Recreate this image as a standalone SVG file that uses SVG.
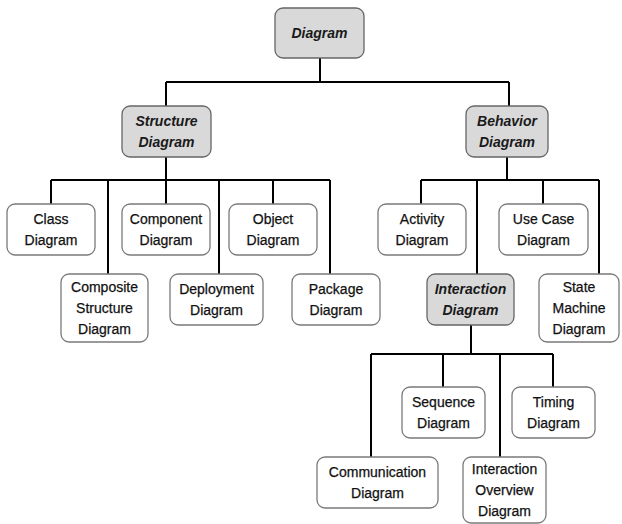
<svg xmlns="http://www.w3.org/2000/svg" width="622" height="524" viewBox="0 0 622 524">
<style>
.b{fill:#fff;stroke:#7a7a7a;stroke-width:1.3}
.g{fill:#d9d9d9;stroke:#666;stroke-width:1.3}
text{font-family:"Liberation Sans",Arial,sans-serif;font-size:14px;fill:#111;text-anchor:middle;stroke:#111;stroke-width:0.25}
.i{font-style:italic;font-weight:bold;stroke:none;fill:#1a1a1a}
.c{fill:none;stroke:#000;stroke-width:2}
</style>
<rect width="622" height="524" fill="#fff"/>
<g id="connectors" class="c">
<path d="M320 58V82M166 82H509M166 82V106M509 82V106"/>
<path d="M166 157V180M51 180H330M51 180V204M108 180V274M166 180V204M219 180V274M273 180V204M330 180V274"/>
<path d="M507 157V180M421 180H599M421 180V204M477 180V274M543 180V204M599 180V274"/>
<path d="M471 325V354M371 354H553M371 354V457M443 354V387M500 354V457M553 354V387"/>
</g>
<g id="diagram"><rect class="g" x="275" y="8" width="89" height="50" rx="8"/><text class="i" x="319.5" y="38">Diagram</text></g>
<g id="structure"><rect class="g" x="122" y="106" width="89" height="51" rx="8"/><text class="i" x="166.5" y="126">Structure</text><text class="i" x="166.5" y="147">Diagram</text></g>
<g id="behavior"><rect class="g" x="466" y="106" width="82" height="51" rx="8"/><text class="i" x="507" y="126">Behavior</text><text class="i" x="507" y="147">Diagram</text></g>
<g id="class"><rect class="b" x="7" y="204" width="88" height="51" rx="8"/><text x="51" y="224">Class</text><text x="51" y="245">Diagram</text></g>
<g id="component"><rect class="b" x="122" y="204" width="88" height="51" rx="8"/><text x="166" y="224">Component</text><text x="166" y="245">Diagram</text></g>
<g id="object"><rect class="b" x="229" y="204" width="88" height="51" rx="8"/><text x="273" y="224">Object</text><text x="273" y="245">Diagram</text></g>
<g id="composite"><rect class="b" x="61" y="274" width="87" height="68" rx="8"/><text x="104.5" y="292">Composite</text><text x="104.5" y="313">Structure</text><text x="104.5" y="334">Diagram</text></g>
<g id="deployment"><rect class="b" x="170" y="274" width="93" height="51" rx="8"/><text x="216.5" y="294">Deployment</text><text x="216.5" y="315">Diagram</text></g>
<g id="package"><rect class="b" x="292" y="274" width="88" height="51" rx="8"/><text x="336" y="294">Package</text><text x="336" y="315">Diagram</text></g>
<g id="activity"><rect class="b" x="378" y="204" width="88" height="51" rx="8"/><text x="422" y="224">Activity</text><text x="422" y="245">Diagram</text></g>
<g id="usecase"><rect class="b" x="499" y="204" width="89" height="51" rx="8"/><text x="543.5" y="224">Use Case</text><text x="543.5" y="245">Diagram</text></g>
<g id="interaction"><rect class="g" x="427" y="274" width="87" height="51" rx="8"/><text class="i" x="470.5" y="294">Interaction</text><text class="i" x="470.5" y="315">Diagram</text></g>
<g id="statemachine"><rect class="b" x="539" y="274" width="80" height="68" rx="8"/><text x="579" y="292">State</text><text x="579" y="313">Machine</text><text x="579" y="334">Diagram</text></g>
<g id="sequence"><rect class="b" x="402" y="387" width="83" height="51" rx="8"/><text x="443.5" y="407">Sequence</text><text x="443.5" y="428">Diagram</text></g>
<g id="timing"><rect class="b" x="512" y="387" width="83" height="51" rx="8"/><text x="553.5" y="407">Timing</text><text x="553.5" y="428">Diagram</text></g>
<g id="communication"><rect class="b" x="317" y="457" width="121" height="51" rx="8"/><text x="377.5" y="477">Communication</text><text x="377.5" y="498">Diagram</text></g>
<g id="overview"><rect class="b" x="463" y="457" width="83" height="66" rx="8"/><text x="504.5" y="474">Interaction</text><text x="504.5" y="495">Overview</text><text x="504.5" y="516">Diagram</text></g>
</svg>
